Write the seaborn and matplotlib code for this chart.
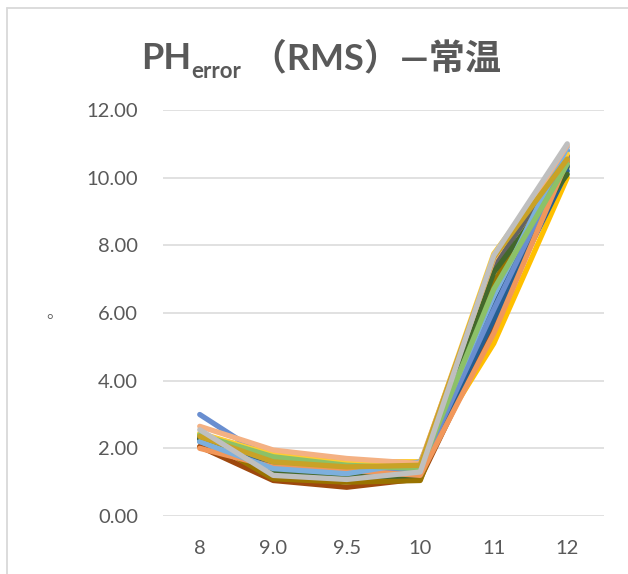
import matplotlib
matplotlib.use('Agg')
import matplotlib.pyplot as plt
import seaborn as sns
import pandas as pd
from matplotlib.lines import Line2D

# ---------------- data ----------------
x_labels = ['8', '9.0', '9.5', '10', '11', '12']

series_names = [f'S{i+1}' for i in range(20)]
series_colors = [
    '#4472C4', '#ED7D31', '#A5A5A5', '#FFC000', '#5B9BD5', '#70AD47',
    '#264478', '#9E480E', '#636363', '#997300', '#255E91', '#43682B',
    '#698ED0', '#F1975A', '#FFCD33', '#7CAFDD', '#8CC168', '#F4B183',
    '#C9A227', '#BFBFBF',
]
s1 = [2.25, 1.55, 1.40, 1.45, 6.00, 10.50]
s2 = [2.05, 1.50, 1.45, 1.35, 5.50, 10.45]
s3 = [2.20, 1.35, 1.20, 1.30, 6.80, 10.80]
s4 = [2.40, 1.85, 1.60, 1.60, 5.10, 10.00]
s5 = [2.20, 1.45, 1.30, 1.55, 6.30, 10.80]
s6 = [2.40, 1.75, 1.50, 1.45, 6.60, 10.30]
s7 = [2.30, 1.25, 1.10, 1.15, 6.20, 10.35]
s8 = [2.05, 1.05, 0.85, 1.10, 5.60, 10.65]
s9 = [2.30, 1.30, 1.15, 1.20, 7.35, 10.60]
s10 = [2.35, 1.10, 1.00, 1.05, 6.90, 10.50]
s11 = [2.30, 1.50, 1.35, 1.40, 5.80, 10.20]
s12 = [2.30, 1.30, 1.15, 1.20, 7.20, 10.10]
s13 = [3.00, 1.60, 1.40, 1.40, 6.10, 10.60]
s14 = [2.00, 1.45, 1.35, 1.20, 5.40, 10.50]
s15 = [2.45, 1.80, 1.55, 1.50, 7.75, 10.70]
s16 = [2.20, 1.40, 1.25, 1.60, 6.50, 10.90]
s17 = [2.40, 1.75, 1.50, 1.40, 6.70, 10.40]
s18 = [2.65, 1.95, 1.70, 1.55, 7.60, 10.95]
s19 = [2.35, 1.60, 1.45, 1.50, 7.65, 10.55]
s20 = [2.55, 1.20, 1.08, 1.30, 7.70, 11.00]
series_values = [s1, s2, s3, s4, s5, s6, s7, s8, s9, s10,
                 s11, s12, s13, s14, s15, s16, s17, s18, s19, s20]

title_main = 'PH'
title_sub = 'error'
title_rest = ' （RMS）—常温'
y_axis_title = '。'

# ---------------- build table ----------------
rows = []
for name, vals in zip(series_names, series_values):
    for i, v in enumerate(vals):
        rows.append({'series': name, 'pos': i, 'value': v})
df = pd.DataFrame(rows)

sns.set_theme(style='white')
plt.rcParams['font.family'] = ['Lato', 'Noto Sans CJK SC', 'DejaVu Sans']

W, H = 628, 574
fig = plt.figure(figsize=(W / 100, H / 100), dpi=100)
ax = fig.add_axes([163 / W, 58 / H, 441 / W, 406 / H])

sns.lineplot(data=df, x='pos', y='value', hue='series', palette=series_colors,
             hue_order=series_names, sort=False, legend=False, linewidth=3.8,
             ax=ax, solid_joinstyle='round', solid_capstyle='round')

ax.set_xlim(-0.5, len(x_labels) - 0.5)
ax.set_ylim(0, 12)
ax.set_xticks(range(len(x_labels)))
ax.set_xticklabels(x_labels)
ax.set_yticks([0, 2, 4, 6, 8, 10, 12])
ax.set_yticklabels([f'{v:.2f}' for v in [0, 2, 4, 6, 8, 10, 12]])
ax.set_xlabel('')
ax.set_ylabel('')
ax.grid(axis='y', color='#D9D9D9', linewidth=1.1)
ax.set_axisbelow(True)
for sp in ax.spines.values():
    sp.set_visible(False)
ax.tick_params(axis='both', length=0, labelsize=14.5, colors='#595959')
ax.tick_params(axis='y', pad=18)
ax.tick_params(axis='x', pad=17)

# chart border (left and top visible)
fig.add_artist(Line2D([7 / W, 7 / W], [0, 1 - 8 / H], transform=fig.transFigure,
                      color='#D9D9D9', linewidth=1.3))
fig.add_artist(Line2D([7 / W, 1], [1 - 8 / H, 1 - 8 / H], transform=fig.transFigure,
                      color='#D9D9D9', linewidth=1.3))

# title composed of pieces
fig.canvas.draw()
renderer = fig.canvas.get_renderer()
tc = '#595959'
base_y = 1 - 69 / H
t1 = fig.text(0, base_y, title_main, fontsize=26, fontweight='bold', color=tc, va='baseline')
t2 = fig.text(0, base_y - 9 / H, title_sub, fontsize=16, fontweight='bold', color=tc, va='baseline')
t3 = fig.text(0, base_y, title_rest, fontsize=26, fontweight='bold', color=tc, va='baseline')
w1 = t1.get_window_extent(renderer).width
w2 = t2.get_window_extent(renderer).width
w3 = t3.get_window_extent(renderer).width
total = w1 + w2 + w3
x0 = 321 - total / 2
t1.set_x(x0 / W)
t2.set_x((x0 + w1) / W)
t3.set_x((x0 + w1 + w2) / W)

fig.text(55 / W, 1 - 314 / H, y_axis_title, fontsize=12, color='#595959',
         family=['Noto Sans CJK SC'], ha='center', va='center')

fig.savefig('out.png', dpi=100)
